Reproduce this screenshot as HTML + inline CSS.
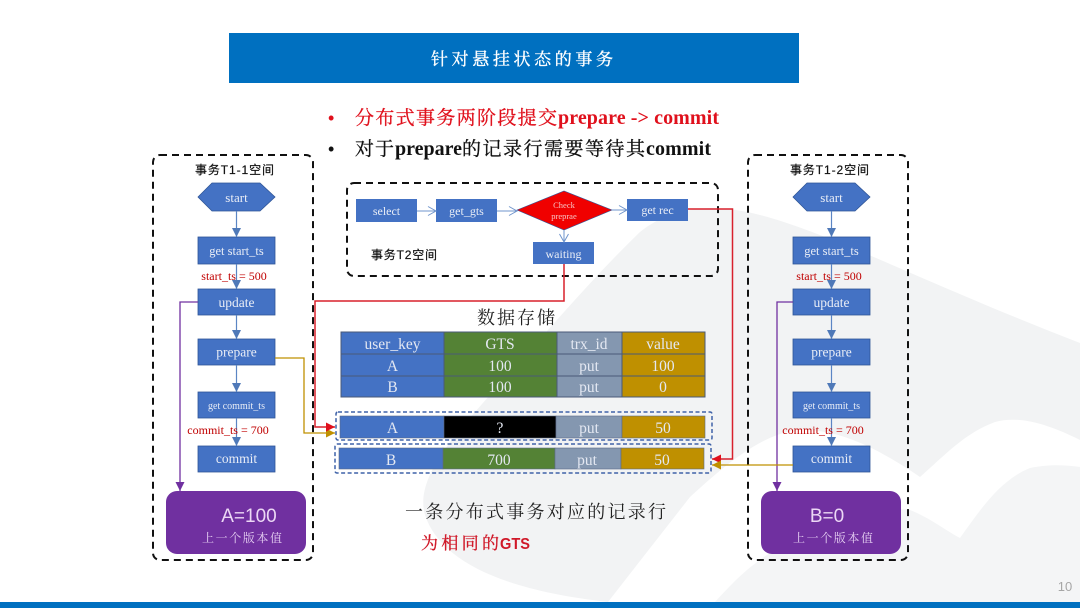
<!DOCTYPE html>
<html><head><meta charset="utf-8"><style>
html,body{margin:0;padding:0;background:#fff}
svg{display:block}
.w{fill:#e9edf6;font-family:"Liberation Serif",serif;text-anchor:middle}
.r{fill:#c00000;font-family:"Liberation Serif",serif;font-size:12px;text-anchor:middle}
.c{font-family:"Liberation Serif","Noto Serif CJK SC",serif}
.s{font-family:"Liberation Sans","Noto Sans CJK SC",sans-serif;font-size:12px;fill:#111}
.t{fill:#e4e8f2;font-family:"Liberation Serif",serif;font-size:15.5px;text-anchor:middle}
</style></head><body>
<svg width="1080" height="608" viewBox="0 0 1080 608" xmlns="http://www.w3.org/2000/svg">
<defs>
<marker id="ab" markerUnits="userSpaceOnUse" markerWidth="10" markerHeight="9" refX="9" refY="4.5" orient="auto"><path d="M0 0L9 4.5L0 9z" fill="#4f79b8"/></marker>
<marker id="ao" markerUnits="userSpaceOnUse" markerWidth="11" markerHeight="11" refX="9" refY="5" orient="auto"><path d="M1 0.5L9 5L1 9.5" fill="none" stroke="#6f94cc" stroke-width="1"/></marker>
<marker id="ap" markerUnits="userSpaceOnUse" markerWidth="10" markerHeight="9" refX="9" refY="4.5" orient="auto"><path d="M0 0L9 4.5L0 9z" fill="#7030a0"/></marker>
<marker id="ar" markerUnits="userSpaceOnUse" markerWidth="10" markerHeight="9" refX="9" refY="4.5" orient="auto"><path d="M0 0L9 4.5L0 9z" fill="#e0101c"/></marker>
<marker id="ag" markerUnits="userSpaceOnUse" markerWidth="10" markerHeight="9" refX="9" refY="4.5" orient="auto"><path d="M0 0L9 4.5L0 9z" fill="#bf9000"/></marker>
</defs>
<rect width="1080" height="608" fill="#fff"/>
<!-- background swooshes -->
<path d="M608 602C500 590 440 560 425 515C415 480 450 440 490 395C540 340 590 280 640 232C670 208 710 202 760 215C830 233 930 285 1080 343V440C1050 425 1020 415 995 422C965 433 945 455 920 477C880 450 840 428 797 430C760 435 725 465 690 497z" fill="#f2f3f4"/>
<path d="M715 602C735 580 750 565 775 550C810 528 860 505 910 510C930 518 945 530 960 538C980 510 1000 480 1030 468C1050 464 1065 465 1080 467V602z" fill="#f4f5f6"/>
<!-- header -->
<rect x="229" y="33" width="570" height="50" fill="#0070c0"/>
<text class="c" x="431" y="65" font-size="17" fill="#fff" stroke="#fff" stroke-width=".35" textLength="182">针对悬挂状态的事务</text>
<rect y="602" width="1080" height="6" fill="#0070c0"/>
<text x="1065" y="591" font-family="Liberation Sans,sans-serif" font-size="13" fill="#a6a6a6" text-anchor="middle">10</text>
<!-- bullets -->
<text x="328" y="124" font-family="Liberation Sans,sans-serif" font-size="18" fill="#e0101c">•</text>
<text x="328" y="155" font-family="Liberation Sans,sans-serif" font-size="18" fill="#111">•</text>
<text class="c" x="355" y="124" font-size="19" fill="#e0101c" stroke="#e0101c" stroke-width=".3" textLength="202">分布式事务两阶段提交</text>
<text class="c" x="558" y="124" font-size="20" font-weight="700" fill="#e0101c" textLength="161">prepare -&gt; commit</text>
<text class="c" x="355" y="155" font-size="19" fill="#111" stroke="#111" stroke-width=".3" textLength="39">对于</text>
<text class="c" x="395" y="155" font-size="20" font-weight="700" fill="#111" textLength="67">prepare</text>
<text class="c" x="462" y="155" font-size="19" fill="#111" stroke="#111" stroke-width=".3" textLength="183">的记录行需要等待其</text>
<text class="c" x="646" y="155" font-size="20" font-weight="700" fill="#111" textLength="65">commit</text>
<!-- dashed containers -->
<g fill="none" stroke="#111" stroke-width="2" stroke-dasharray="7 5">
<rect x="153" y="155" width="160" height="405" rx="7"/>
<rect x="748" y="155" width="160" height="405" rx="7"/>
<rect x="347" y="183" width="371" height="93" rx="7"/>
</g>
<text class="s" x="195" y="174" stroke="#111" stroke-width=".2" textLength="79">事务T1-1空间</text>
<text class="s" x="790" y="174" stroke="#111" stroke-width=".2" textLength="79">事务T1-2空间</text>
<text class="s" x="371" y="259" stroke="#111" stroke-width=".2" textLength="66">事务T2空间</text>
<!-- left column -->
<g fill="#4472c4" stroke="#2f5597" stroke-width=".8">
<path d="M198 197L212 183H260L275 197L260 211H212z"/>
<rect x="198" y="237" width="77" height="27"/><rect x="198" y="289" width="77" height="26"/>
<rect x="198" y="339" width="77" height="26"/><rect x="198" y="392" width="77" height="26"/>
<rect x="198" y="446" width="77" height="26"/>
<path d="M793 197L807 183H855L870 197L855 211H807z"/>
<rect x="793" y="237" width="77" height="27"/><rect x="793" y="289" width="77" height="26"/>
<rect x="793" y="339" width="77" height="26"/><rect x="793" y="392" width="77" height="26"/>
<rect x="793" y="446" width="77" height="26"/>
</g>
<g stroke="#5b85c4" stroke-width="1.2" fill="none">
<path d="M236.500 211V237" marker-end="url(#ab)"/><path d="M236.500 264V289" marker-end="url(#ab)"/><path d="M236.500 315V339" marker-end="url(#ab)"/><path d="M236.500 365V392" marker-end="url(#ab)"/><path d="M236.500 418V446" marker-end="url(#ab)"/>
<path d="M831.500 211V237" marker-end="url(#ab)"/><path d="M831.500 264V289" marker-end="url(#ab)"/><path d="M831.500 315V339" marker-end="url(#ab)"/><path d="M831.500 365V392" marker-end="url(#ab)"/><path d="M831.500 418V446" marker-end="url(#ab)"/>
</g>
<g>
<text x="236.500" y="202" class="w" font-size="13">start</text><text x="236.500" y="255" class="w" font-size="12.500">get start_ts</text><text x="236.500" y="307" class="w" font-size="13.500">update</text><text x="236.500" y="356.500" class="w" font-size="13.500">prepare</text><text x="236.500" y="409" class="w" font-size="10">get commit_ts</text><text x="236.500" y="463" class="w" font-size="13.500">commit</text>
<text x="831.500" y="202" class="w" font-size="13">start</text><text x="831.500" y="255" class="w" font-size="12.500">get start_ts</text><text x="831.500" y="307" class="w" font-size="13.500">update</text><text x="831.500" y="356.500" class="w" font-size="13.500">prepare</text><text x="831.500" y="409" class="w" font-size="10">get commit_ts</text><text x="831.500" y="463" class="w" font-size="13.500">commit</text>
</g>
<text class="r" x="234" y="280">start_ts = 500</text>
<text class="r" x="228" y="434">commit_ts = 700</text>
<text class="r" x="829" y="280">start_ts = 500</text>
<text class="r" x="823" y="434">commit_ts = 700</text>
<!-- purple blocks -->
<rect x="166" y="491" width="140" height="63" rx="11" fill="#7030a0"/>
<rect x="761" y="491" width="140" height="63" rx="11" fill="#7030a0"/>
<text x="249" y="522" font-family="Liberation Sans,sans-serif" font-size="19" fill="#ecd8f5" text-anchor="middle">A=100</text>
<text x="827" y="522" font-family="Liberation Sans,sans-serif" font-size="19" fill="#ecd8f5" text-anchor="middle">B=0</text>
<text class="c" x="202" y="542" font-size="12" fill="#e6cff2" textLength="80">上一个版本值</text>
<text class="c" x="793" y="542" font-size="12" fill="#e6cff2" textLength="80">上一个版本值</text>
<g fill="none" stroke="#7030a0" stroke-width="1.300">
<path d="M198 302H180V491" marker-end="url(#ap)"/>
<path d="M793 302H777V491" marker-end="url(#ap)"/>
</g>
<!-- T2 flow -->
<g fill="#4472c4">
<rect x="356" y="199" width="61" height="23"/><rect x="436" y="199" width="61" height="23"/>
<rect x="627" y="199" width="61" height="22"/><rect x="533" y="242" width="61" height="22"/>
</g>
<path d="M517 210L564 191L612 210L564 230z" fill="#f00000" stroke="#2f5597" stroke-width=".6"/>
<g stroke="#6f94cc" stroke-width="1" fill="none">
<path d="M417 211H436" marker-end="url(#ao)"/><path d="M497 211H517" marker-end="url(#ao)"/>
<path d="M612 210H627" marker-end="url(#ao)"/><path d="M564 230V242" marker-end="url(#ao)"/>
</g>
<text class="w" x="386.500" y="215" font-size="12">select</text>
<text class="w" x="466.500" y="215" font-size="12">get_gts</text>
<text class="w" x="657.500" y="214" font-size="12">get rec</text>
<text class="w" x="563.500" y="258" font-size="12">waiting</text>
<text x="564" y="208" font-family="Liberation Serif,serif" font-size="8.500" fill="#f6c4c4" text-anchor="middle">Check</text>
<text x="564" y="219" font-family="Liberation Serif,serif" font-size="8.500" fill="#f6c4c4" text-anchor="middle">preprae</text>
<!-- storage title -->
<text class="c" x="477" y="324" font-size="18" fill="#222" textLength="78">数据存储</text>
<!-- table -->
<g stroke="#4a5a78" stroke-width="1">
<rect x="341" y="332" width="103" height="22" fill="#4472c4"/><rect x="444" y="332" width="113" height="22" fill="#548235"/><rect x="557" y="332" width="65" height="22" fill="#8497b0"/><rect x="622" y="332" width="83" height="22" fill="#bf9000"/>
<rect x="341" y="354" width="103" height="22" fill="#4472c4"/><rect x="444" y="354" width="113" height="22" fill="#548235"/><rect x="557" y="354" width="65" height="22" fill="#8497b0"/><rect x="622" y="354" width="83" height="22" fill="#bf9000"/>
<rect x="341" y="376" width="103" height="21" fill="#4472c4"/><rect x="444" y="376" width="113" height="21" fill="#548235"/><rect x="557" y="376" width="65" height="21" fill="#8497b0"/><rect x="622" y="376" width="83" height="21" fill="#bf9000"/>
</g>
<text class="t" x="392.500" y="349">user_key</text><text class="t" x="500" y="349">GTS</text><text class="t" x="589" y="349">trx_id</text><text class="t" x="663" y="349">value</text>
<text class="t" x="392.500" y="371">A</text><text class="t" x="500" y="371">100</text><text class="t" x="589" y="371">put</text><text class="t" x="663" y="371">100</text>
<text class="t" x="392.500" y="392">B</text><text class="t" x="500" y="392">100</text><text class="t" x="589" y="392">put</text><text class="t" x="663" y="392">0</text>
<!-- rows -->
<g stroke="#5a6a88" stroke-width=".6">
<rect x="340" y="416" width="104" height="22" fill="#4472c4"/><rect x="444" y="416" width="112" height="22" fill="#000"/><rect x="556" y="416" width="66" height="22" fill="#8497b0"/><rect x="622" y="416" width="83" height="22" fill="#bf9000"/>
<rect x="339" y="448" width="104" height="21" fill="#4472c4"/><rect x="443" y="448" width="112" height="21" fill="#548235"/><rect x="555" y="448" width="66" height="21" fill="#8497b0"/><rect x="621" y="448" width="83" height="21" fill="#bf9000"/>
</g>
<text class="t" x="392.500" y="433">A</text><text class="t" x="500" y="433">?</text><text class="t" x="589" y="433">put</text><text class="t" x="663" y="433">50</text>
<text class="t" x="391" y="465">B</text><text class="t" x="499" y="465">700</text><text class="t" x="587" y="465">put</text><text class="t" x="662" y="465">50</text>
<g fill="none" stroke="#3f62a8" stroke-width="1.500" stroke-dasharray="4 2.500">
<rect x="336" y="412" width="376" height="28" rx="2"/>
<rect x="335" y="444" width="376" height="29" rx="2"/>
</g>
<!-- connectors -->
<g fill="none">
<path d="M275 358H304V433H335" stroke="#bf9000" stroke-width="1.300" marker-end="url(#ag)"/>
<path d="M564 264V301H315V427H335" stroke="#d8202c" stroke-width="1.500" marker-end="url(#ar)"/>
<path d="M688 209H732.500V459H712" stroke="#d8202c" stroke-width="1.500" marker-end="url(#ar)"/>
<path d="M793 465H712" stroke="#bf9000" stroke-width="1.300" marker-end="url(#ag)"/>
</g>
<!-- bottom text -->
<text class="c" x="405" y="518" font-size="18" fill="#222" textLength="261">一条分布式事务对应的记录行</text>
<text class="c" x="421" y="549" font-size="17" style="fill:#d01828" stroke="#d01828" stroke-width=".3" textLength="78">为相同的</text>
<text x="500" y="549" font-family="Liberation Sans,sans-serif" font-size="16" font-weight="700" style="fill:#d01828" textLength="30" lengthAdjust="spacingAndGlyphs">GTS</text>
</svg>
</body></html>
